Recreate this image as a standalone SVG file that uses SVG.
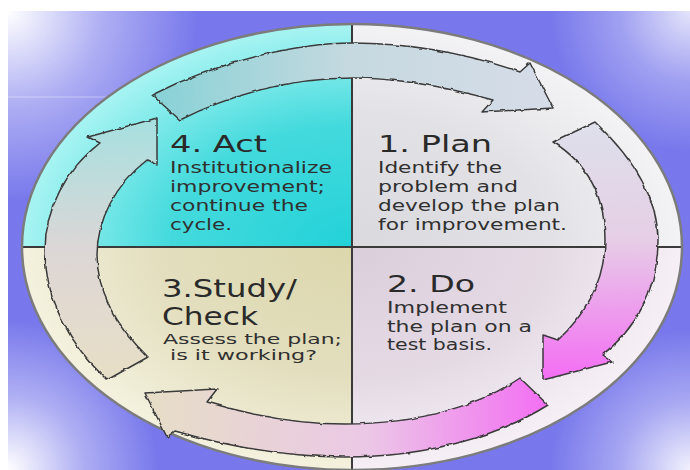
<svg xmlns="http://www.w3.org/2000/svg" width="690" height="470" viewBox="0 0 690 470">
  <defs>
    <style>
      .head { font-family: "DejaVu Sans", Verdana, sans-serif; font-size: 23px; fill: #2a2a2a; }
      .head2 { font-family: "DejaVu Sans", Verdana, sans-serif; font-size: 25px; fill: #2a2a2a; }
      .body { font-family: "DejaVu Sans", Verdana, sans-serif; font-size: 15.5px; fill: #303030; }
      .body2 { font-family: "DejaVu Sans", Verdana, sans-serif; font-size: 14px; fill: #303030; }
      .arrow { stroke: #3a3a3a; stroke-width: 1.5; stroke-linejoin: round; }
      .divider { stroke: #3a3a3a; stroke-width: 2; fill: none; }
    </style>
    <radialGradient id="glowTL" gradientUnits="userSpaceOnUse" cx="8" cy="11" r="190">
      <stop offset="0" stop-color="#ffffff" stop-opacity="1"/>
      <stop offset="0.5" stop-color="#ffffff" stop-opacity="0.4"/>
      <stop offset="1" stop-color="#ffffff" stop-opacity="0"/>
    </radialGradient>
    <radialGradient id="glowTR" gradientUnits="userSpaceOnUse" cx="690" cy="11" r="140">
      <stop offset="0" stop-color="#ffffff" stop-opacity="0.8"/>
      <stop offset="0.5" stop-color="#ffffff" stop-opacity="0.3"/>
      <stop offset="1" stop-color="#ffffff" stop-opacity="0"/>
    </radialGradient>
    <radialGradient id="glowBL" gradientUnits="userSpaceOnUse" cx="8" cy="470" r="150">
      <stop offset="0" stop-color="#ffffff" stop-opacity="1"/>
      <stop offset="0.5" stop-color="#ffffff" stop-opacity="0.4"/>
      <stop offset="1" stop-color="#ffffff" stop-opacity="0"/>
    </radialGradient>
    <radialGradient id="glowBR" gradientUnits="userSpaceOnUse" cx="690" cy="470" r="140">
      <stop offset="0" stop-color="#ffffff" stop-opacity="0.9"/>
      <stop offset="0.5" stop-color="#ffffff" stop-opacity="0.35"/>
      <stop offset="1" stop-color="#ffffff" stop-opacity="0"/>
    </radialGradient>
    <radialGradient id="fillAct" gradientUnits="userSpaceOnUse" cx="352" cy="247" r="330" gradientTransform="matrix(1 0 0 0.676 0 80)">
      <stop offset="0" stop-color="#22d2d8"/>
      <stop offset="0.55" stop-color="#44dadd"/>
      <stop offset="1" stop-color="#a8f4f2"/>
    </radialGradient>
    <radialGradient id="fillPlan" gradientUnits="userSpaceOnUse" cx="352" cy="247" r="330" gradientTransform="matrix(1 0 0 0.676 0 80)">
      <stop offset="0" stop-color="#d9d9de"/>
      <stop offset="0.6" stop-color="#e2e2e6"/>
      <stop offset="1" stop-color="#f3f3f5"/>
    </radialGradient>
    <radialGradient id="fillDo" gradientUnits="userSpaceOnUse" cx="352" cy="247" r="330" gradientTransform="matrix(1 0 0 0.676 0 80)">
      <stop offset="0" stop-color="#dbcedb"/>
      <stop offset="0.6" stop-color="#e4dae4"/>
      <stop offset="1" stop-color="#f6f0f6"/>
    </radialGradient>
    <radialGradient id="fillStudy" gradientUnits="userSpaceOnUse" cx="352" cy="247" r="330" gradientTransform="matrix(1 0 0 0.676 0 80)">
      <stop offset="0" stop-color="#dcd7ac"/>
      <stop offset="0.6" stop-color="#e3dfbf"/>
      <stop offset="1" stop-color="#f4f1de"/>
    </radialGradient>
    <linearGradient id="gTop" gradientUnits="userSpaceOnUse" x1="150" y1="0" x2="553" y2="0">
      <stop offset="0" stop-color="#86d2d6"/>
      <stop offset="0.5" stop-color="#c6d9e0"/>
      <stop offset="1" stop-color="#d6dce8"/>
    </linearGradient>
    <linearGradient id="gRight" gradientUnits="userSpaceOnUse" x1="0" y1="122" x2="0" y2="380">
      <stop offset="0" stop-color="#dde0ea"/>
      <stop offset="0.45" stop-color="#e6cfe6"/>
      <stop offset="1" stop-color="#f46cf4"/>
    </linearGradient>
    <linearGradient id="gBottom" gradientUnits="userSpaceOnUse" x1="548" y1="0" x2="145" y2="0">
      <stop offset="0" stop-color="#f36ef3"/>
      <stop offset="0.45" stop-color="#ebc8e6"/>
      <stop offset="1" stop-color="#e6dec6"/>
    </linearGradient>
    <linearGradient id="gLeft" gradientUnits="userSpaceOnUse" x1="0" y1="380" x2="0" y2="118">
      <stop offset="0" stop-color="#e8dfc6"/>
      <stop offset="0.5" stop-color="#dcd6d6"/>
      <stop offset="1" stop-color="#a6e0e0"/>
    </linearGradient>
    <filter id="rough" x="-5%" y="-5%" width="110%" height="110%">
      <feTurbulence type="fractalNoise" baseFrequency="0.12" numOctaves="2" seed="3" result="n"/>
      <feDisplacementMap in="SourceGraphic" in2="n" scale="3" xChannelSelector="R" yChannelSelector="G"/>
    </filter>
  </defs>

  <!-- background -->
  <rect width="690" height="470" fill="#ffffff"/>
  <rect x="8" y="11" width="682" height="459" fill="#7878ec"/>
  <rect x="8" y="11" width="682" height="459" fill="url(#glowTL)"/>
  <rect x="8" y="11" width="682" height="459" fill="url(#glowTR)"/>
  <rect x="8" y="11" width="682" height="459" fill="url(#glowBL)"/>
  <rect x="8" y="11" width="682" height="459" fill="url(#glowBR)"/>
  <line x1="8" y1="97" x2="110" y2="97" stroke="#ffffff" stroke-opacity="0.25" stroke-width="1.5"/>

  <!-- quadrants / nodes -->
  <g id="node-act">
    <path d="M352,247 L22,247 A330,223 0 0 1 352,24 Z" fill="url(#fillAct)"/>
    <text class="head" x="170" y="152" textLength="97" lengthAdjust="spacingAndGlyphs">4. Act</text>
    <text class="body" x="170" y="173" textLength="162" lengthAdjust="spacingAndGlyphs">Institutionalize</text>
    <text class="body" x="170" y="192" textLength="155" lengthAdjust="spacingAndGlyphs">improvement;</text>
    <text class="body" x="170" y="211" textLength="138" lengthAdjust="spacingAndGlyphs">continue the</text>
    <text class="body" x="170" y="230" textLength="62" lengthAdjust="spacingAndGlyphs">cycle.</text>
  </g>
  <g id="node-plan">
    <path d="M352,247 L352,24 A330,223 0 0 1 682,247 Z" fill="url(#fillPlan)"/>
    <text class="head" x="378" y="152" textLength="114" lengthAdjust="spacingAndGlyphs">1. Plan</text>
    <text class="body" x="378" y="173" textLength="124" lengthAdjust="spacingAndGlyphs">Identify the</text>
    <text class="body" x="378" y="192" textLength="140" lengthAdjust="spacingAndGlyphs">problem and</text>
    <text class="body" x="378" y="211" textLength="182" lengthAdjust="spacingAndGlyphs">develop the plan</text>
    <text class="body" x="378" y="230" textLength="189" lengthAdjust="spacingAndGlyphs">for improvement.</text>
  </g>
  <g id="node-do">
    <path d="M352,247 L682,247 A330,223 0 0 1 352,470 Z" fill="url(#fillDo)"/>
    <text class="head" x="387" y="292" textLength="88" lengthAdjust="spacingAndGlyphs">2. Do</text>
    <text class="body" x="387" y="313" textLength="120" lengthAdjust="spacingAndGlyphs">Implement</text>
    <text class="body" x="387" y="332" textLength="145" lengthAdjust="spacingAndGlyphs">the plan on a</text>
    <text class="body" x="387" y="350" textLength="105" lengthAdjust="spacingAndGlyphs">test basis.</text>
  </g>
  <g id="node-study">
    <path d="M352,247 L352,470 A330,223 0 0 1 22,247 Z" fill="url(#fillStudy)"/>
    <text class="head2" x="162" y="297" textLength="135" lengthAdjust="spacingAndGlyphs">3.Study/</text>
    <text class="head2" x="162" y="325" textLength="96" lengthAdjust="spacingAndGlyphs">Check</text>
    <text class="body2" x="163" y="344" textLength="179" lengthAdjust="spacingAndGlyphs">Assess the plan;</text>
    <text class="body2" x="170" y="360" textLength="147" lengthAdjust="spacingAndGlyphs">is it working?</text>
  </g>

  <!-- dividers and rim -->
  <line class="divider" x1="352" y1="24" x2="352" y2="470"/>
  <line class="divider" x1="22" y1="247" x2="682" y2="247"/>
  <ellipse cx="352" cy="247" rx="330" ry="223" fill="none" stroke="#7c7c7c" stroke-width="2.5"/>

  <!-- connectors -->
  <g id="connectors" filter="url(#rough)">
    <path class="arrow" fill="url(#gTop)" d="M152,95 C220,60 300,43 352,43 C420,43 480,58 520,72 L530,63 L553,108 L482,112 L493,100 C450,88 400,78 352,78 C290,78 230,95 180,120 Z"/>
    <path class="arrow" fill="url(#gRight)" d="M595,122 C635,160 658,200 658,240 C658,290 635,330 602,355 L612,362 L543,380 L543,335 L558,340 C590,310 605,275 605,240 C605,200 590,165 553,142 Z"/>
    <path class="arrow" fill="url(#gBottom)" d="M548,405 C500,435 430,457 345,457 C290,457 230,447 175,431 L167,437 L145,393 L217,389 L207,402 C250,415 300,424 345,424 C420,424 480,405 520,378 Z"/>
    <path class="arrow" fill="url(#gLeft)" d="M107,380 C70,345 45,300 45,250 C45,210 65,170 100,143 L88,137 L157,118 L157,165 L147,160 C115,185 97,220 97,255 C97,290 115,325 148,357 Z"/>
  </g>
</svg>
